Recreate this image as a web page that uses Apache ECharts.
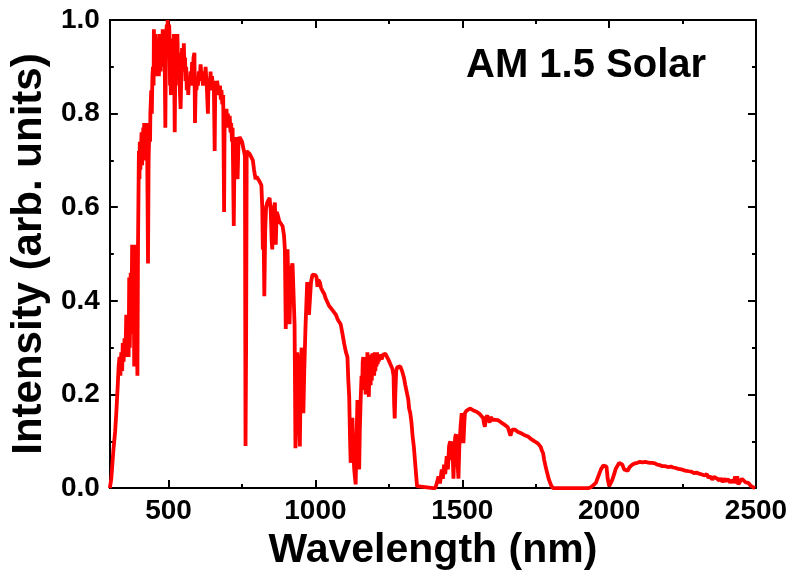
<!DOCTYPE html>
<html>
<head>
<meta charset="utf-8">
<script src="https://cdn.jsdelivr.net/npm/echarts@6.0.0/dist/echarts.min.js"></script>
<style>
html,body{margin:0;padding:0;background:#fff;}
#chart{width:792px;height:576px;}
</style>
</head>
<body>
<div id="chart"></div>
<script>
// [wavelength (nm), intensity (arb. units)]
const uvVisSpectrum = [
[300,0.00],[305,0.02],[312,0.08],[318,0.12],[322,0.16],[327,0.22],[330,0.26],[333,0.28],[336,0.24],[339,0.29],
[342,0.25],[344,0.31],[347,0.27],[350,0.32],[353,0.28],[356,0.37],[359,0.29],[362,0.36],[364,0.28],[366,0.45],
[368,0.30],[371,0.46],[373,0.33],[376,0.52],[379,0.34],[381,0.50],[383,0.26],[386,0.45],[389,0.52],[392,0.31],
[394,0.24],[396,0.52],[399,0.72],[401,0.66],[402,0.74],[404,0.68],[405,0.70],[408,0.76],[410,0.69],[411,0.72],
[414,0.77],[416,0.71],[417,0.78],[420,0.73],[422,0.70],[424,0.78],[427,0.74],[430,0.48],[432,0.70],[435,0.78],
[437,0.74],[438,0.80],[441,0.85],[443,0.80],[445,0.88],[447,0.90],[449,0.86],[450,0.98],[452,0.90],[453,0.95],
[455,0.89],[456,0.97],[458,0.92],[459,0.96],[461,0.88],[462,0.92],[464,0.96],[465,0.94],[467,0.88],[468,0.91],
[470,0.97],[471,0.94],[473,0.89],[474,0.96],[476,0.92],[477,0.95],[479,0.90],[480,0.98],[482,0.91],[483,0.96],
[485,0.93],[486,0.97],[489,0.77],[491,0.93],[492,0.97],[494,0.99],[495,0.92],[497,1.00],[499,0.93],[500,0.95],
[502,0.99],[503,0.97],[505,0.86],[506,0.90],[508,0.84],[509,0.88],[511,0.96],[512,0.93],[514,0.89],[515,0.95],
[517,0.92],[518,0.97],[521,0.76],[523,0.90],[525,0.94],[526,0.95],[528,0.88],[530,0.97],[532,0.91],[534,0.93],
[536,0.86],[537,0.88],[539,0.84],[541,0.81],[543,0.87],[544,0.90],[546,0.94],[548,0.93],[550,0.89],[552,0.95],
[554,0.90],[556,0.92],[558,0.87],[560,0.90],[562,0.85],[565,0.88],[567,0.84],[570,0.88],[572,0.86],[575,0.89],
[578,0.86],[580,0.91],[582,0.87],[585,0.92],[588,0.93],[590,0.78],[593,0.88],[595,0.85],[598,0.88],[600,0.86],
[603,0.89],[606,0.87],[609,0.905],[612,0.88],[614,0.89],[617,0.86],[620,0.88],[623,0.86],[626,0.90],[630,0.86],
[632,0.83],[634,0.80],[636,0.87],[640,0.85],[643,0.89],[645,0.86],[648,0.88],[651,0.85],[654,0.87],[657,0.72],
[659,0.86],[662,0.84],[665,0.87],[669,0.873],[672,0.84],[675,0.86],[678,0.83],[680,0.85],[683,0.82],[686,0.84],
[689,0.59],[691,0.80],[694,0.77],[697,0.81],[700,0.78],[702,0.80],[705,0.77],[708,0.795],[711,0.76],[713,0.78],
[716,0.74],[718,0.77],[722,0.56],[725,0.75],[728,0.68],[732,0.75],[735,0.66],[738,0.74],[742,0.75],[746,0.75],
[750,0.74],[755,0.74],[760,0.71],[762,0.09],[764,0.30],[766,0.72],[771,0.72],[776,0.714],[781,0.71],[787,0.70],
[791,0.68],[796,0.66],[800,0.665],[805,0.66],[810,0.655],[816,0.647],[819,0.60],[821,0.51],[823,0.58],[826,0.41],
[829,0.55],[832,0.60],[836,0.61],[840,0.615],[844,0.62],[848,0.59],[851,0.53],[853,0.51],[856,0.58],[859,0.60],
[862,0.61],[865,0.52],[868,0.59],[872,0.583],[877,0.57],[883,0.57],[888,0.56],[893,0.54],[896,0.51],[899,0.34],
[902,0.45],[905,0.51],[909,0.40],[912,0.35],[915,0.44],[918,0.47],[922,0.48],[926,0.477],[929,0.35],[932,0.085],
[935,0.20],[938,0.29],[941,0.27],[944,0.15],[947,0.089],[950,0.24],[953,0.30],[956,0.22],[959,0.16],[962,0.25],
[966,0.34],[969,0.39],[972,0.44],[975,0.42],[978,0.37],[981,0.40],[985,0.44],[990,0.456],[995,0.46],[1000,0.455]
];
const nirSpectrum = [
[1004,0.45],[1007,0.43],[1010,0.445],[1015,0.44],[1019,0.428],[1025,0.42],[1030,0.415],[1035,0.405],[1041,0.407],[1046,0.39],
[1052,0.39],[1058,0.38],[1064,0.379],[1070,0.37],[1076,0.36],[1081,0.355],[1086,0.35],[1092,0.33],[1098,0.308],[1104,0.29],
[1109,0.28],[1112,0.23],[1115,0.195],[1118,0.10],[1120,0.054],[1123,0.12],[1126,0.15],[1129,0.08],[1132,0.04],[1135,0.02],
[1137,0.008],[1140,0.10],[1143,0.188],[1146,0.09],[1149,0.04],[1151,0.12],[1154,0.188],[1157,0.24],[1159,0.21],[1161,0.27],
[1163,0.28],[1165,0.21],[1167,0.28],[1169,0.24],[1171,0.20],[1173,0.28],[1175,0.23],[1177,0.29],[1179,0.24],[1182,0.195],
[1184,0.27],[1186,0.285],[1188,0.22],[1190,0.285],[1192,0.23],[1194,0.288],[1196,0.25],[1198,0.28],[1200,0.24],[1202,0.29],
[1204,0.25],[1206,0.28],[1208,0.26],[1210,0.29],[1212,0.265],[1214,0.285],[1216,0.27],[1218,0.285],[1222,0.285],[1226,0.275],
[1230,0.285],[1234,0.283],[1238,0.287],[1243,0.283],[1248,0.275],[1253,0.268],[1258,0.265],[1262,0.255],[1266,0.24],[1268,0.18],
[1270,0.149],[1272,0.20],[1275,0.25],[1278,0.258],[1283,0.262],[1289,0.26],[1295,0.25],[1301,0.237],[1306,0.22],[1312,0.202],
[1316,0.19],[1319,0.17],[1323,0.16],[1327,0.14],[1331,0.11],[1335,0.089],[1340,0.05],[1346,0.004],[1350,0.0],[1400,0.0],
[1408,0.0],[1413,0.01],[1419,0.025],[1424,0.01],[1430,0.04],[1434,0.02],[1438,0.05],[1442,0.03],[1447,0.068],[1451,0.04],
[1455,0.09],[1459,0.10],[1463,0.06],[1466,0.10],[1470,0.02],[1473,0.08],[1476,0.11],[1479,0.115],[1483,0.06],[1487,0.02],
[1490,0.09],[1494,0.13],[1498,0.16],[1501,0.12],[1504,0.096],[1507,0.14],[1509,0.16],[1514,0.165],[1520,0.168],[1526,0.17],
[1532,0.168],[1538,0.166],[1543,0.168],[1549,0.163],[1555,0.16],[1560,0.158],[1566,0.16],[1571,0.15],[1574,0.138],[1577,0.131],
[1580,0.15],[1585,0.155],[1589,0.155],[1593,0.14],[1597,0.152],[1602,0.146],[1607,0.15],[1612,0.146],[1617,0.144],[1622,0.145],
[1628,0.142],[1633,0.14],[1639,0.138],[1645,0.135],[1650,0.133],[1655,0.13],[1660,0.12],[1664,0.112],[1667,0.11],[1670,0.125],
[1675,0.126],[1679,0.125],[1685,0.122],[1690,0.12],[1695,0.118],[1701,0.117],[1707,0.115],[1712,0.113],[1718,0.112],[1724,0.11],
[1730,0.107],[1736,0.104],[1741,0.102],[1746,0.10],[1752,0.097],[1758,0.095],[1763,0.093],[1767,0.088],[1771,0.08],[1775,0.075],
[1779,0.06],[1783,0.048],[1786,0.04],[1790,0.03],[1794,0.02],[1797,0.015],[1803,0.005],[1809,0.0]
];
const swirSpectrum = [
[1930,0.0],[1938,0.002],[1946,0.006],[1955,0.011],[1960,0.02],[1966,0.03],[1972,0.04],[1980,0.048],[1986,0.05],[1991,0.046],
[1995,0.02],[2000,0.004],[2005,0.01],[2011,0.018],[2017,0.03],[2023,0.042],[2028,0.047],[2034,0.054],[2040,0.057],[2045,0.05],
[2051,0.04],[2057,0.036],[2063,0.037],[2070,0.045],[2079,0.05],[2088,0.053],[2096,0.054],[2105,0.056],[2113,0.055],[2122,0.056],
[2130,0.055],[2138,0.054],[2147,0.054],[2156,0.053],[2164,0.05],[2172,0.049],[2181,0.047],[2190,0.047],[2200,0.045],[2210,0.046],
[2218,0.044],[2226,0.043],[2236,0.041],[2246,0.04],[2255,0.038],[2263,0.037],[2271,0.036],[2280,0.035],[2289,0.032],[2297,0.033],
[2306,0.031],[2316,0.029],[2325,0.027],[2332,0.03],[2338,0.022],[2345,0.025],[2351,0.018],[2357,0.024],[2361,0.022],[2368,0.02],
[2375,0.016],[2380,0.021],[2386,0.013],[2392,0.02],[2398,0.015],[2405,0.019],[2412,0.012],[2418,0.017],[2424,0.012],[2429,0.025],
[2432,0.01],[2436,0.025],[2440,0.008],[2446,0.014],[2452,0.02],[2458,0.016],[2465,0.012],[2474,0.011],[2482,0.005],[2490,0.002],
[2497,0.0]
];
const xMajorTicks = [500,1000,1500,2000,2500];
const xMinorTicks = [750,1250,1750,2250];
const titleText = 'AM 1.5 Solar';
const xName = 'Wavelength (nm)';
const yName = 'Intensity (arb. units)';

const FONT = '"Liberation Sans", Arial, sans-serif';
const black = '#000';
const seriesData = uvVisSpectrum.concat(nirSpectrum, swirSpectrum);

function xAx(pos, ticks, len, labels, line) {
  return {
    type: 'value', min: 300, max: 2500, position: pos,
    axisLine: { show: line, onZero: false, lineStyle: { color: black, width: 2 } },
    axisTick: { show: true, inside: true, length: len, customValues: ticks, lineStyle: { color: black, width: 2 } },
    axisLabel: labels ? { show: true, customValues: ticks, color: black, fontFamily: FONT, fontWeight: 'bold', fontSize: 28, margin: 9, formatter: v => String(v) } : { show: false },
    splitLine: { show: false }
  };
}
function yAx(pos, labels) {
  return {
    type: 'value', min: 0, max: 1, interval: 0.2, position: pos,
    axisLine: { show: true, onZero: false, lineStyle: { color: black, width: 2 } },
    axisTick: { show: true, inside: true, length: 8, lineStyle: { color: black, width: 2 } },
    minorTick: { show: true, splitNumber: 2, length: 4, lineStyle: { color: black, width: 2 } },
    axisLabel: labels ? { show: true, color: black, fontFamily: FONT, fontWeight: 'bold', fontSize: 28, margin: 10, formatter: v => v.toFixed(1) } : { show: false },
    splitLine: { show: false }
  };
}

const chart = echarts.init(document.getElementById('chart'), null, { renderer: 'canvas' });
const xa0 = xAx('bottom', xMajorTicks, 8, true, true);
xa0.name = xName;
xa0.nameLocation = 'middle';
xa0.nameGap = 38;
xa0.nameTextStyle = { color: black, fontFamily: FONT, fontWeight: 'bold', fontSize: 41 };
const ya0 = yAx('left', true);
ya0.name = yName;
ya0.nameLocation = 'middle';
ya0.nameGap = 58;
ya0.nameTextStyle = { color: black, fontFamily: FONT, fontWeight: 'bold', fontSize: 42 };

chart.setOption({
  animation: false,
  backgroundColor: '#fff',
  title: {
    text: titleText, left: 461, top: 41,
    textStyle: { color: black, fontFamily: FONT, fontWeight: 'bold', fontSize: 40 }
  },
  grid: { left: 106, right: 36, top: 20, bottom: 84, containLabel: false },
  xAxis: [
    xa0,
    xAx('bottom', xMinorTicks, 4, false, false),
    xAx('top', xMajorTicks, 8, false, true),
    xAx('top', xMinorTicks, 4, false, false)
  ],
  yAxis: [ya0, yAx('right', false)],
  series: [{
    type: 'line', xAxisIndex: 0, yAxisIndex: 0,
    data: seriesData, showSymbol: false, symbol: 'none',
    lineStyle: { color: '#ff0000', width: 3.8 }, itemStyle: { color: '#ff0000' }
  }]
});
</script>
</body>
</html>
